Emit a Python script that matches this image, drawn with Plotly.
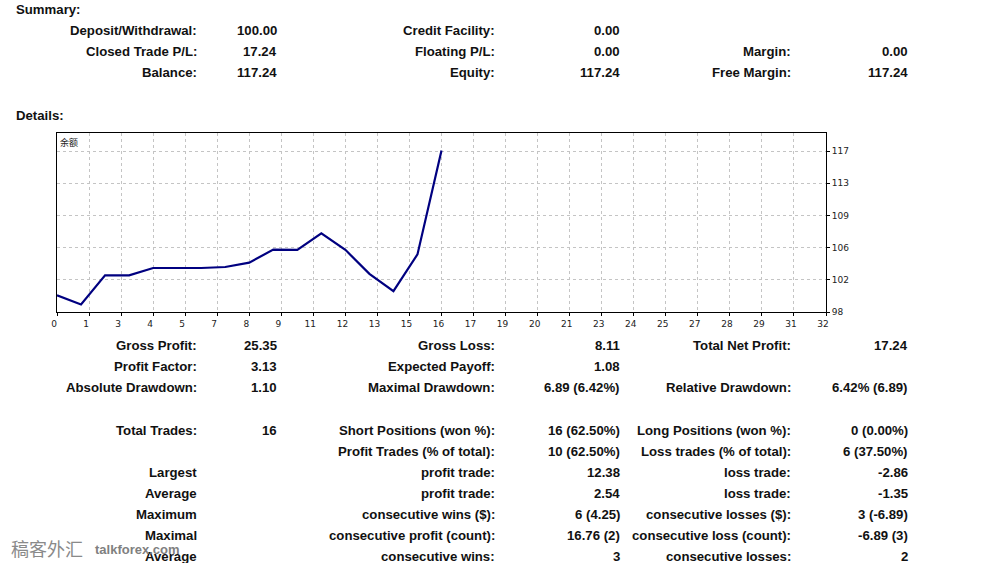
import plotly.graph_objects as go

# ---------------- data ----------------
trade_no = list(range(17))
balance = [100.00, 98.90, 102.37, 102.36, 103.24, 103.24, 103.24, 103.36, 103.88,
           105.43, 105.40, 107.37, 105.40, 102.54, 100.48, 104.86, 117.24]

x_tick_labels = ["0", "1", "3", "4", "5", "7", "8", "9", "11", "12", "13", "15", "16",
                 "17", "19", "20", "21", "23", "24", "25", "27", "28", "29", "31", "32"]
y_tick_vals = [98.0, 101.83, 105.66, 109.49, 113.32, 117.15]
y_tick_labels = ["98", "102", "106", "109", "113", "117"]

summary_c1_labels = ["Deposit/Withdrawal:", "Closed Trade P/L:", "Balance:"]
summary_c1_values = ["100.00", "17.24", "117.24"]
summary_c2_labels = ["Credit Facility:", "Floating P/L:", "Equity:"]
summary_c2_values = ["0.00", "0.00", "117.24"]
summary_c3_labels = ["", "Margin:", "Free Margin:"]
summary_c3_values = ["", "0.00", "117.24"]

details_c1_labels = ["Gross Profit:", "Profit Factor:", "Absolute Drawdown:", "Total Trades:", "",
                     "Largest", "Average", "Maximum", "Maximal", "Average"]
details_c1_values = ["25.35", "3.13", "1.10", "16", "", "", "", "", "", ""]
details_c2_labels = ["Gross Loss:", "Expected Payoff:", "Maximal Drawdown:", "Short Positions (won %):",
                     "Profit Trades (% of total):", "profit trade:", "profit trade:",
                     "consecutive wins ($):", "consecutive profit (count):", "consecutive wins:"]
details_c2_values = ["8.11", "1.08", "6.89 (6.42%)", "16 (62.50%)", "10 (62.50%)", "12.38", "2.54",
                     "6 (4.25)", "16.76 (2)", "3"]
details_c3_labels = ["Total Net Profit:", "", "Relative Drawdown:", "Long Positions (won %):",
                     "Loss trades (% of total):", "loss trade:", "loss trade:",
                     "consecutive losses ($):", "consecutive loss (count):", "consecutive losses:"]
details_c3_values = ["17.24", "", "6.42% (6.89)", "0 (0.00%)", "6 (37.50%)", "-2.86", "-1.35",
                     "3 (-6.89)", "-6.89 (3)", "2"]

# ---------------- layout geometry ----------------
W, H = 984, 563
L, R, T, B = 57, 826, 133, 312
PW, PH = R - L, B - T

def px(x):
    return (x - L) / PW

def py(y):
    return (B - y) / PH

FONT = "Liberation Sans, Arial, sans-serif"
TXT = "#111111"

x_tick_vals = [i * 32 / (len(x_tick_labels) - 1) for i in range(len(x_tick_labels))]

fig = go.Figure()
fig.add_trace(go.Scatter(
    x=trade_no, y=balance, mode="lines",
    line=dict(color="#000080", width=2.2),
    hoverinfo="skip", showlegend=False, cliponaxis=False,
))

annotations = []

def text(x, y, s, anchor="right", size=13.2, bold=True, color=TXT, family=FONT):
    if not s:
        return
    annotations.append(dict(
        x=px(x), y=py(y), xref="paper", yref="paper", text=("<b>%s</b>" % s) if bold else s,
        showarrow=False, xanchor=anchor, yanchor="middle", borderpad=0, borderwidth=0,
        font=dict(family=family, size=size, color=color),
    ))

text(16, 10, "Summary:", anchor="left")
text(16, 115, "Details:", anchor="left")

sum_rows = [30.7, 51.7, 72.7]
for i, y in enumerate(sum_rows):
    text(197, y, summary_c1_labels[i])
    text(277, y, summary_c1_values[i])
    text(495, y, summary_c2_labels[i])
    text(620, y, summary_c2_values[i])
    text(791, y, summary_c3_labels[i])
    text(908, y, summary_c3_values[i])

det_rows = [345.7, 366.7, 387.3, 430.0, 451.0, 472.7, 493.3, 514.3, 535.7, 556.7]
for i, y in enumerate(det_rows):
    text(197, y, details_c1_labels[i])
    text(277, y, details_c1_values[i])
    text(495, y, details_c2_labels[i])
    text(620, y, details_c2_values[i])
    text(791, y, details_c3_labels[i])
    text(908, y, details_c3_values[i])

# chart caption
text(60, 142, "余额", anchor="left", size=9, bold=False, color="#222222",
     family="Noto Sans CJK SC, sans-serif")

# watermark
text(11, 548, "稿客外汇", anchor="left", size=18, bold=False, color="#8a8a8a",
     family="Noto Sans CJK SC, sans-serif")
text(95, 549, "talkforex.com", anchor="left", size=13, bold=True, color="#808080")

fig.update_layout(
    width=W, height=H,
    margin=dict(l=L, r=W - R, t=T, b=H - B, pad=0),
    paper_bgcolor="white", plot_bgcolor="white",
    annotations=annotations,
    showlegend=False,
)

grid = dict(showgrid=True, gridcolor="#c4c4c4", gridwidth=1, griddash="3px,3px")

fig.update_xaxes(
    range=[0, 32], tickmode="array", tickvals=x_tick_vals, ticktext=x_tick_labels,
    ticks="outside", ticklen=3, tickcolor="#000", tickwidth=1,
    tickfont=dict(family="DejaVu Sans, sans-serif", size=9, color="#222"),
    ticklabelshift=-3,
    showline=True, linecolor="#000", linewidth=1, mirror=True,
    zeroline=False, **grid,
)
fig.update_yaxes(
    range=[98.0, 98.0 + PH / 8.40], side="right",
    tickmode="array", tickvals=y_tick_vals, ticktext=y_tick_labels,
    ticks="outside", ticklen=3, tickcolor="#000", tickwidth=1,
    tickfont=dict(family="DejaVu Sans, sans-serif", size=9, color="#222"),
    showline=True, linecolor="#000", linewidth=1, mirror=True,
    zeroline=False, **grid,
)

fig.write_html(
    "out.html",
    config={"displayModeBar": False},
    post_script="document.body.style.margin='0px';document.body.style.overflow='hidden';",
)
